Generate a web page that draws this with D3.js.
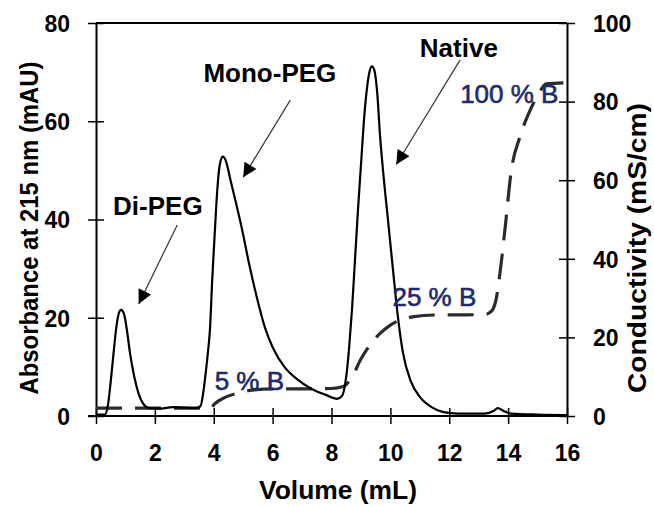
<!DOCTYPE html>
<html>
<head>
<meta charset="utf-8">
<script src="https://cdn.jsdelivr.net/npm/d3@7"></script>
<style>
  html, body { margin: 0; padding: 0; background: #fff; }
  svg { display: block; }
  text { font-family: "Liberation Sans", Arial, sans-serif; }
</style>
</head>
<body>
<svg id="chart" width="654" height="507"></svg>
<script>
// ---- data ----
const absVolume = [0, 0.3, 0.4, 0.5, 0.6, 0.7, 0.78, 0.85, 0.95, 1.05, 1.15, 1.3, 1.45, 1.6, 1.8, 2.2, 2.6, 3.0, 3.4, 3.55, 3.65, 3.75, 3.82, 3.87, 3.95, 4.04, 4.12, 4.2, 4.31, 4.42, 4.55, 4.75, 4.96, 5.2, 5.45, 5.74, 6.0, 6.4, 6.83, 7.3, 7.8, 8.19, 8.35, 8.5, 8.6, 8.7, 8.8, 8.9, 9.0, 9.1, 9.2, 9.3, 9.37, 9.45, 9.55, 9.65, 9.75, 9.9, 10.09, 10.25, 10.43, 10.7, 11.0, 11.4, 11.8, 12.3, 13.2, 13.5, 13.65, 13.85, 14.1, 15.0, 16.0];
const absorbance = [0.3, 0.3, 2, 7, 13, 18.5, 21, 21.6, 20.8, 17.5, 13, 8, 4.5, 2.5, 1.6, 1.5, 1.8, 1.7, 1.6, 2.0, 5, 10, 14, 17.5, 28, 37.9, 46, 51, 52.8, 51.8, 48.5, 43.5, 38, 31, 24.5, 18, 14, 10, 7.5, 5.6, 4.3, 3.5, 4, 8, 14, 22, 32, 42, 51, 60, 66.5, 70.3, 71.2, 70.5, 66, 57, 50, 41, 29.7, 20.5, 12.8, 7, 3.9, 1.8, 0.8, 0.5, 0.5, 1.0, 1.6, 1.0, 0.5, 0.3, 0.2];

const condVolume = [0, 1.0, 2.0, 3.0, 3.9, 4.02, 4.4, 4.8, 5.3, 6.0, 7.0, 8.0, 8.4, 8.7, 9.0, 9.4, 9.8, 10.2, 10.8, 11.5, 13.2, 13.45, 13.6, 13.75, 13.9, 14.1, 14.4, 14.7, 15.0, 15.3, 16.0];
const conductivity = [2.0, 2.0, 2.0, 2.0, 2.0, 3.0, 4.8, 5.8, 6.6, 6.9, 6.9, 7.0, 7.5, 10, 14.5, 19, 22, 24, 25.3, 25.7, 25.8, 26.8, 30, 38, 48, 62, 71, 77, 81.5, 84.5, 84.8];

const xTicks = [0, 2, 4, 6, 8, 10, 12, 14, 16];
const yLeftTicks = [0, 20, 40, 60, 80];
const yRightTicks = [0, 20, 40, 60, 80, 100];

const peakLabels = ["Di-PEG", "Mono-PEG", "Native"];
const stepLabels = ["5 % B", "25 % B", "100 % B"];

// ---- layout ----
const svg = d3.select("#chart");
const X0 = 96, X1 = 567, Y0 = 23, Y1 = 416;

const x = d3.scaleLinear().domain([0, 16]).range([X0, X1]);
const yA = d3.scaleLinear().domain([0, 80]).range([Y1, Y0]);
const yC = d3.scaleLinear().domain([0, 100]).range([Y1, Y0]);

const tickFont = 23;
const FONT = "Liberation Sans, Arial, sans-serif";

// top border
svg.append("line").attr("x1", X0).attr("x2", X1).attr("y1", Y0).attr("y2", Y0)
  .attr("stroke", "#000").attr("stroke-width", 2);

// bottom axis
const gx = svg.append("g").attr("transform", `translate(0,${Y1})`)
  .call(d3.axisBottom(x).tickValues(xTicks).tickFormat(d3.format("d")).tickSizeOuter(0));
gx.select(".domain").attr("stroke-width", 2).attr("d", `M${X0 - 8},0H${X1}`);
gx.selectAll(".tick line").attr("y1", -8).attr("y2", 8).attr("stroke-width", 1.5);
gx.selectAll(".tick text").attr("y", 29).attr("dy", "0.71em")
  .attr("font-size", tickFont).attr("font-weight", "bold").attr("fill", "#000")
  .attr("font-family", FONT);

// left axis
const gl = svg.append("g").attr("transform", `translate(${X0},0)`)
  .call(d3.axisLeft(yA).tickValues(yLeftTicks).tickSizeOuter(0));
gl.select(".domain").attr("stroke-width", 2);
gl.selectAll(".tick line").attr("x1", -8).attr("x2", 8).attr("stroke-width", 1.5);
gl.selectAll(".tick text").attr("x", -26).attr("dy", "0.36em")
  .attr("font-size", tickFont).attr("font-weight", "bold").attr("fill", "#000")
  .attr("font-family", FONT);

// right axis
const gr = svg.append("g").attr("transform", `translate(${X1},0)`)
  .call(d3.axisRight(yC).tickValues(yRightTicks).tickSizeOuter(0));
gr.select(".domain").attr("stroke-width", 2);
gr.selectAll(".tick line").attr("x1", -8).attr("x2", 8).attr("stroke-width", 1.5);
gr.selectAll(".tick text").attr("x", 26).attr("dy", "0.36em")
  .attr("font-size", tickFont).attr("font-weight", "bold").attr("fill", "#000")
  .attr("font-family", FONT);

// conductivity (dashed)
const condData = condVolume.map((v, i) => [v, conductivity[i]]);
svg.append("path").datum(condData)
  .attr("fill", "none").attr("stroke", "#2b2b2b").attr("stroke-width", 3.2)
  .attr("stroke-dasharray", "26,13")
  .attr("d", d3.line().x(d => x(d[0])).y(d => yC(d[1])).curve(d3.curveMonotoneX));

// absorbance (solid)
const absData = absVolume.map((v, i) => [v, absorbance[i]]);
svg.append("path").datum(absData)
  .attr("fill", "none").attr("stroke", "#000").attr("stroke-width", 2.2)
  .attr("stroke-linejoin", "round")
  .attr("d", d3.line().x(d => x(d[0])).y(d => yA(d[1])).curve(d3.curveMonotoneX));

// arrowheads
const defs = svg.append("defs");
defs.append("marker").attr("id", "arrow").attr("viewBox", "0 0 10 10")
  .attr("refX", 10).attr("refY", 5).attr("markerWidth", 16).attr("markerHeight", 14)
  .attr("markerUnits", "userSpaceOnUse").attr("orient", "auto")
  .append("path").attr("d", "M0,0L10,5L0,10Z").attr("fill", "#000");

// peak labels with arrows
const peakLabelX = [0.58, 3.65, 11.0];
const peakLabelY = [41, 68, 73];
const arrowFrom = [[2.76, 38.9], [6.6, 64.3], [12.37, 72.5]];
const arrowTo = [[1.45, 22.8], [5.0, 48.6], [10.2, 51.2]];

peakLabels.forEach((t, i) => {
  svg.append("text").attr("x", x(peakLabelX[i])).attr("y", yA(peakLabelY[i]))
    .attr("font-size", 26).attr("font-weight", "bold").attr("fill", "#000")
    .text(t);
  svg.append("line")
    .attr("x1", x(arrowFrom[i][0])).attr("y1", yA(arrowFrom[i][1]))
    .attr("x2", x(arrowTo[i][0])).attr("y2", yA(arrowTo[i][1]))
    .attr("stroke", "#333").attr("stroke-width", 1.2)
    .attr("marker-end", "url(#arrow)");
});

// step labels (blue)
const stepLabelX = [4.03, 10.07, 12.37];
const stepLabelY = [6.6, 27.9, 79.6];
stepLabels.forEach((t, i) => {
  svg.append("text").attr("x", x(stepLabelX[i])).attr("y", yC(stepLabelY[i]))
    .attr("font-size", 26).attr("fill", "#1c2a6e")
    .attr("stroke", "#1c2a6e").attr("stroke-width", 0.6)
    .text(t);
});

// axis titles
svg.append("text").attr("x", 338).attr("y", 499).attr("text-anchor", "middle")
  .attr("font-size", 25).attr("font-weight", "bold")
  .attr("textLength", 158).attr("lengthAdjust", "spacingAndGlyphs")
  .text("Volume (mL)");
svg.append("text").attr("transform", "translate(38,228) rotate(-90)")
  .attr("text-anchor", "middle").attr("font-size", 26).attr("font-weight", "bold")
  .attr("textLength", 333).attr("lengthAdjust", "spacingAndGlyphs")
  .text("Absorbance at 215 nm (mAU)");
svg.append("text").attr("transform", "translate(646,248) rotate(-90)")
  .attr("text-anchor", "middle").attr("font-size", 26).attr("font-weight", "bold")
  .attr("textLength", 290).attr("lengthAdjust", "spacingAndGlyphs")
  .text("Conductivity (mS/cm)");
</script>
</body>
</html>
